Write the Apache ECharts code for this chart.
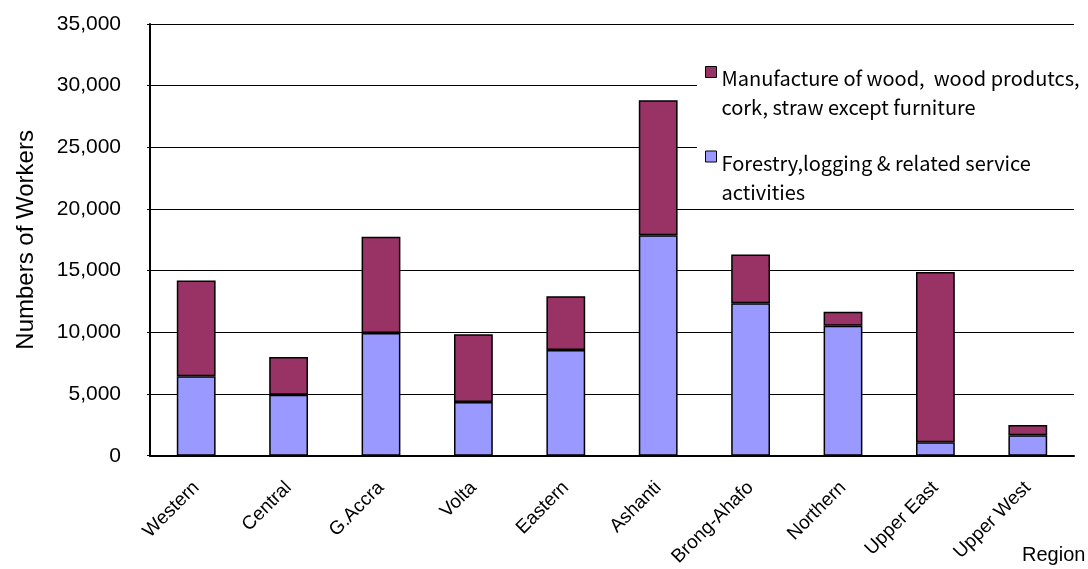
<!DOCTYPE html>
<html>
<head>
<meta charset="utf-8">
<script src="https://cdn.jsdelivr.net/npm/echarts@6/dist/echarts.min.js"></script>
<style>
  html, body { margin: 0; padding: 0; background: #fff; }
  #chart { width: 1088px; height: 569px; }
</style>
</head>
<body>
<div id="chart"></div>
<script>
const regions = ['Western', 'Central', 'G.Accra', 'Volta', 'Eastern', 'Ashanti', 'Brong-Ahafo', 'Northern', 'Upper East', 'Upper West']
const forestry = [6450, 4950, 9950, 4350, 8580, 17880, 12370, 10540, 1100, 1670]
const manufacture = [7750, 3050, 7800, 5500, 4350, 10940, 3950, 1130, 13790, 830]
const yTicks = [0, 5000, 10000, 15000, 20000, 25000, 30000, 35000]

const nameManufacture = 'Manufacture of wood,  wood produtcs,\ncork, straw except furniture'
const nameForestry = 'Forestry,logging & related service\nactivities'

const chart = echarts.init(document.getElementById('chart'))

const barStyle = (color) => ({
  color: color,
  borderColor: '#000',
  borderWidth: 1.5
})

// icon sits next to the first text line, like the original legend
const legendText = (name) => '{s| }\n' + name.split('\n').map((l) => '{t|' + l + '}').join('\n')

const option = {
  animation: false,
  title: {
    text: 'Region',
    left: 1022,
    top: 545,
    padding: 0,
    textStyle: {
      fontFamily: 'Liberation Sans',
      fontSize: 20,
      fontWeight: 'normal',
      color: '#000'
    }
  },
  grid: { left: 150, right: 14, top: 24, bottom: 111 },
  legend: {
    orient: 'vertical',
    left: 705,
    top: 38,
    padding: 0,
    itemGap: 5,
    itemWidth: 11,
    itemHeight: 11,
    icon: 'rect',
    selectedMode: false,
    data: [nameManufacture, nameForestry],
    formatter: legendText,
    itemStyle: { borderColor: '#000', borderWidth: 1 },
    textStyle: {
      color: '#000',
      rich: {
        s: { fontSize: 10, lineHeight: 42 },
        t: { fontFamily: 'Noto Sans CJK JP', fontSize: 20, lineHeight: 29, color: '#000' }
      }
    }
  },
  graphic: [{
    type: 'rect',
    z: 3,
    shape: { x: 697, y: 54, width: 391, height: 154 },
    style: { fill: '#fff' }
  }],
  xAxis: {
    type: 'category',
    data: regions,
    axisLine: { lineStyle: { color: '#000', width: 2 } },
    axisTick: { inside: true, length: 5, lineStyle: { color: '#000', width: 1.5 } },
    axisLabel: {
      rotate: 45,
      margin: 29,
      fontFamily: 'Liberation Sans',
      fontSize: 19,
      color: '#000',
      interval: 0
    }
  },
  yAxis: {
    type: 'value',
    min: yTicks[0],
    max: yTicks[yTicks.length - 1],
    interval: 5000,
    name: 'Numbers of Workers',
    nameLocation: 'middle',
    nameGap: 112,
    nameTextStyle: {
      fontFamily: 'Liberation Sans',
      fontSize: 24,
      color: '#000'
    },
    axisLine: { show: true, lineStyle: { color: '#000', width: 2 } },
    axisTick: { show: true, length: 3, lineStyle: { color: '#000' } },
    splitLine: { lineStyle: { color: '#000', width: 1 } },
    axisLabel: {
      margin: 29,
      fontFamily: 'Liberation Sans',
      fontSize: 21,
      color: '#000',
      formatter: (v) => v.toLocaleString('en-US')
    }
  },
  series: [
    {
      name: nameForestry,
      type: 'bar',
      stack: 'total',
      barWidth: '42%',
      data: forestry,
      itemStyle: barStyle('#9999ff')
    },
    {
      name: nameManufacture,
      type: 'bar',
      stack: 'total',
      barWidth: '42%',
      data: manufacture,
      itemStyle: barStyle('#993366')
    }
  ]
}

chart.setOption(option)
</script>
</body>
</html>
